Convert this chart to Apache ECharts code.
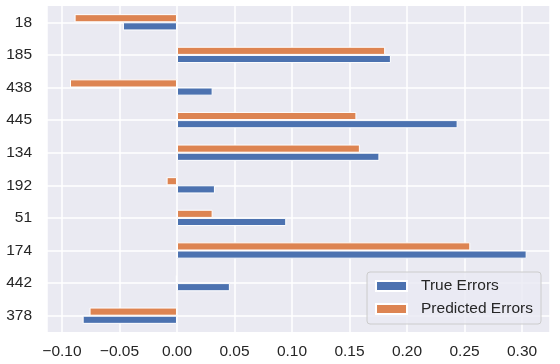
<!DOCTYPE html>
<html>
<head>
<meta charset="utf-8">
<script src="https://cdn.jsdelivr.net/npm/echarts@6/dist/echarts.min.js"></script>
<style>
  html, body { margin: 0; padding: 0; background: #ffffff; }
  #chart { width: 560px; height: 364px; }
</style>
</head>
<body>
<div id="chart"></div>
<script>
// categories listed bottom -> top (first one sits at the bottom, like pandas barh)
const samples = ['378', '442', '174', '51', '192', '134', '445', '438', '185', '18'];
const trueErrors = [-0.082, 0.046, 0.304, 0.095, 0.033, 0.176, 0.244, 0.031, 0.186, -0.047];
const predictedErrors = [-0.076, -0.001, 0.255, 0.031, -0.009, 0.159, 0.156, -0.093, 0.181, -0.089];

const fontFamily = '"Liberation Sans", Arial, sans-serif';
const textColor = '#262626';

const chart = echarts.init(document.getElementById('chart'), null, { renderer: 'canvas' });

const fmtTick = v => (v < 0 ? '\u2212' : '') + Math.abs(v).toFixed(2);

const option = {
    backgroundColor: '#ffffff',
    animation: false,
    grid: {
        left: 47,
        right: 10,
        top: 6,
        bottom: 32,
        show: true,
        backgroundColor: '#EAEAF2',
        borderWidth: 0,
    },
    legend: {
        orient: 'vertical',
        right: 19,
        bottom: 40,
        icon: 'rect',
        itemWidth: 31,
        itemHeight: 10,
        itemGap: 7,
        padding: [6, 8, 7, 8],
        backgroundColor: 'rgba(234, 234, 242, 0.8)',
        borderColor: '#cccccc',
        borderWidth: 1,
        borderRadius: 3,
        textStyle: {
            color: textColor,
            fontFamily: fontFamily,
            fontSize: 15.5,
            lineHeight: 16,
            padding: [0, 0, 0, 9],
        },
        data: ['True Errors', 'Predicted Errors'],
    },
    xAxis: {
        type: 'value',
        min: -0.113,
        max: 0.3243,
        splitNumber: 9,
        axisLine: { show: false },
        axisTick: { show: false },
        axisLabel: {
            color: textColor,
            fontFamily: fontFamily,
            fontSize: 15.5,
            margin: 12,
            showMinLabel: false,
            showMaxLabel: false,
            formatter: fmtTick,
        },
        splitLine: { lineStyle: { color: '#ffffff', width: 1.5 } },
    },
    yAxis: {
        type: 'category',
        data: samples,
        axisLine: { show: false },
        axisTick: { show: false, alignWithLabel: true },
        axisLabel: {
            color: textColor,
            fontFamily: fontFamily,
            fontSize: 15.5,
            margin: 15,
        },
        splitLine: {
            show: true,
            alignWithLabel: true,
            lineStyle: { color: '#ffffff', width: 1.5 },
        },
    },
    // on a vertical category axis the first series lands on top of the band,
    // so the predicted bars go first
    series: [
        {
            name: 'Predicted Errors',
            type: 'bar',
            data: predictedErrors,
            barWidth: '25%',
            barGap: '0%',
            itemStyle: { color: '#DD8452', borderColor: '#ffffff', borderWidth: 1 },
        },
        {
            name: 'True Errors',
            type: 'bar',
            data: trueErrors,
            barWidth: '25%',
            barGap: '0%',
            itemStyle: { color: '#4C72B0', borderColor: '#ffffff', borderWidth: 1 },
        },
    ],
};

chart.setOption(option);
</script>
</body>
</html>
